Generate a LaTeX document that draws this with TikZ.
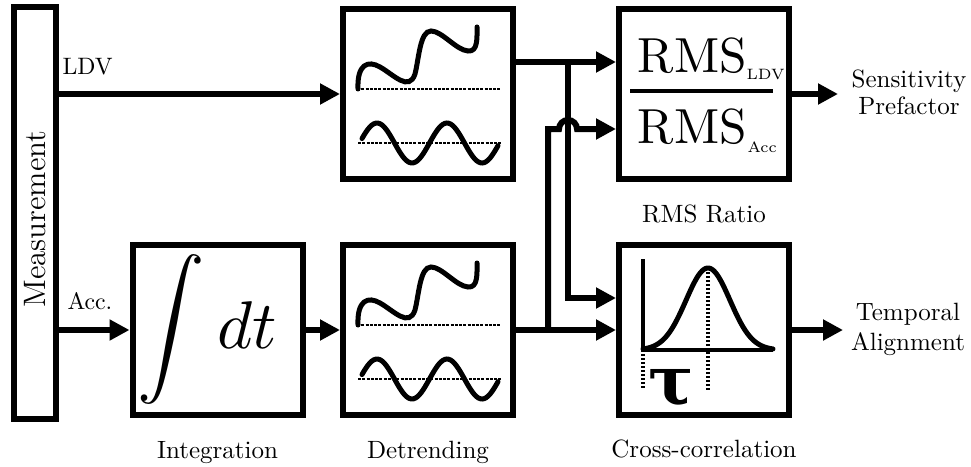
\documentclass[tikz,border=0pt]{standalone}
\usepackage{amsmath}
\usepackage[no-math]{fontspec}
\newfontfamily\taufont{DejaVu Serif}
\usetikzlibrary{arrows.meta,calc}
\tikzset{
  blk/.style={draw, line width=2.4pt, minimum width=68pt, minimum height=68pt, inner sep=0pt},
  conn/.style={line width=2.4pt, -{Triangle[length=8pt,width=8pt]}},
  wire/.style={line width=2.4pt},
  wave/.style={line width=2pt, line cap=round},
  zeroline/.style={line width=0.6pt, dash pattern=on 1.2pt off 0.5pt},
  dotline/.style={line width=1.4pt, dash pattern=on 0.9pt off 0.7pt},
  lbl/.style={font=\fontsize{10}{12}\selectfont, anchor=base, inner sep=0pt},
  sig/.style={font=\fontsize{9.5}{11}\selectfont, anchor=base west, inner sep=0pt},
  detrendpic/.pic={
    \draw[wave] (-70,-5) .. controls (-71,-30) and (-60,-34) .. (-48,-27)
      .. controls (-34,-19) and (-19,-2) .. (-13,-20)
      .. controls (-9,-36) and (-8,-63) .. (3,-63)
      .. controls (14,-63) and (28,-44) .. (40,-43)
      .. controls (50,-42) and (49,-56) .. (49,-67);
    \draw[zeroline] (-71,-5) -- (72,-5);
    \draw[wave] plot[domain=-66:70, samples=70, smooth] (\x, {49 - 20*cos((\x+51)*5.142857)});
    \draw[zeroline] (-70,49) -- (73,49);
  },
  xcorrpic/.pic={
    \draw[line width=1.6pt] (-61,-71) -- (-61,20) -- (69,20);
    \draw[wave] plot[domain=-61:69, samples=80, smooth] (\x, {20 - 82*exp(-((\x-4)/22)^2/2)});
    \draw[dotline] (4,-62) -- (4,60);
    \draw[dotline] (-61,20) -- (-61,60);
  }
}
\begin{document}
\begin{tikzpicture}[x=0.4pt, y=-0.4pt]
\useasboundingbox (0,0) rectangle (971,466);

% blocks
\node[draw, line width=2.4pt, minimum width=16.8pt, minimum height=164.8pt, inner sep=0pt] (meas) at (35,213) {};
\node[rotate=90, inner sep=0pt, font=\fontsize{12.4}{14}\selectfont] (meastext) at (35,219) {Measurement};
\node[blk] (int) at (217.5,330) {};
\node[blk] (det1) at (428,94) {};
\node[blk] (det2) at (428,330) {};
\node[blk] (rms) at (704,94) {};
\node[blk] (xc) at (704,330) {};

% integration content
\node[inner sep=0pt, scale=2.7] at ($(int)+(-46,-1)$) {$\displaystyle\int$};
\node[inner sep=0pt, scale=2.7, anchor=base] at ($(int)+(29.5,18)$) {$dt$};

% detrending content
\pic at (det1) {detrendpic};
\pic at (det2) {detrendpic};

% RMS ratio content
\node[inner sep=0pt, anchor=base west, scale=1.97] at ($(rms)+(-67,-21)$) {RMS};
\node[inner sep=0pt, anchor=base west, font=\fontsize{6}{7}\selectfont] at ($(rms)+(42,-14)$) {LDV};
\draw[line width=1.4pt] ($(rms)+(-74,-3)$) -- ($(rms)+(69,-3)$);
\node[inner sep=0pt, anchor=base west, scale=1.97] at ($(rms)+(-67,49)$) {RMS};
\node[inner sep=0pt, anchor=base west, font=\fontsize{6}{7}\selectfont] at ($(rms)+(43,58)$) {Acc};

% cross-correlation content
\pic at (xc) {xcorrpic};
\node[inner sep=0pt, font=\taufont\bfseries\fontsize{27}{30}\selectfont] at ($(xc)+(-33,58)$) {τ};

% labels
\node[sig] at (62,75) {LDV};
\node[sig] at (67,309) {Acc.};
\node[lbl] at ($(int)+(0,128)$) {Integration};
\node[lbl] at ($(det2)+(0,128)$) {Detrending};
\node[lbl] at ($(xc)+(0,127)$) {Cross-correlation};
\node[lbl] at ($(rms)+(0,128)$) {RMS Ratio};
\node[lbl] (sens1) at (909,88) {Sensitivity};
\node[lbl] (sens2) at (909,115) {Prefactor};
\node[lbl] (temp1) at (908,320) {Temporal};
\node[lbl] (temp2) at (908,350) {Alignment};

% connectors
\draw[conn] (meas.east |- det1.west) -- (det1.west);
\draw[conn] (meas.east |- int.west) -- (int.west);
\draw[conn] (int.east) -- (det2.west);

\coordinate (t1) at ($(det1.east)+(0,-32)$);
\coordinate (j1) at (568,62);
\coordinate (j2) at (548,330);
\coordinate (h1) at ($(rms.west)+(0,35)$);
\draw[conn] (t1) -- (t1 -| rms.west);
\draw[conn] (j1) |- ($(xc.west)+(0,-32)$);
\draw[conn] (det2.east) -- (xc.west);
\draw[conn] (j2) |- ($(j1 |- h1)+(-9,0)$) arc[start angle=180, end angle=0, radius=3.6pt] -- (h1);

\coordinate (sensin) at (838,94);
\coordinate (tempin) at (843,330);
\draw[conn] (rms.east) -- (sensin);
\draw[conn] (xc.east) -- (tempin);
\end{tikzpicture}
\end{document}
